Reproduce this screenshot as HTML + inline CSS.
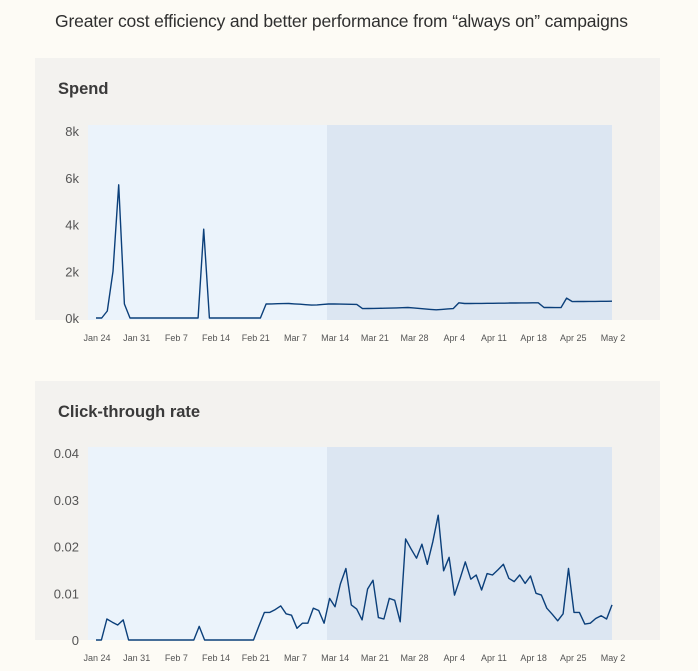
<!DOCTYPE html>
<html><head><meta charset="utf-8"><style>
html,body{margin:0;padding:0;background:#fdfbf5;}
svg{display:block;font-family:"Liberation Sans",sans-serif;}
</style></head><body>
<svg id="c" width="698" height="671" viewBox="0 0 698 671">
<rect x="0" y="0" width="698" height="671" fill="#fdfbf5"/>
<text x="55" y="27" font-size="17.5" fill="#2f2f2f" textLength="573">Greater cost efficiency and better performance from “always on” campaigns</text>
<g id="p1"></g>
<g id="p2"></g>
</svg>
<script>
const dateLabels=["Jan 24","Jan 31","Feb 7","Feb 14","Feb 21","Mar 7","Mar 14","Mar 21","Mar 28","Apr 4","Apr 11","Apr 18","Apr 25","May 2"];
const spendTicks=[0,2000,4000,6000,8000];
const spendTickLabels=["0k","2k","4k","6k","8k"];
const spendValues=[0,0,300,2000,5700,600,0,0,0,0,0,0,0,0,0,0,0,0,0,3800,0,0,0,0,0,0,0,0,0,0,
600,605,610,615,620,605,590,570,550,560,580,600,600,595,590,585,580,400,405,410,415,420,425,430,440,450,
430,410,390,370,350,370,390,400,650,620,620,625,625,630,630,635,635,640,640,645,645,650,650,450,450,445,
445,850,700,705,705,710,710,715,715,720];
const ctrTicks=[0,0.01,0.02,0.03,0.04];
const ctrTickLabels=["0","0.01","0.02","0.03","0.04"];
const ctrValues=[0,0,4.5,3.8,3.2,4.3,0,0,0,0,0,0,0,0,0,0,0,0,0,2.9,0,0,0,0,0,0,0,0,0,0,
3,5.9,5.9,6.5,7.3,5.6,5.3,2.5,3.6,3.6,6.8,6.3,3.6,8.9,7.1,12,15.3,7.5,6.6,4.3,10.9,12.8,4.8,4.5,8.9,8.5,
3.9,21.6,19.5,17.5,20.5,16.2,21,26.7,14.8,17.7,9.6,13,16.7,13,13.9,10.7,14.2,13.9,15,16.2,13.2,12.5,13.9,
12.1,13.7,10,9.6,6.8,5.5,4.1,5.6,15.3,5.9,5.9,3.4,3.6,4.6,5.2,4.5,7.5].map(v=>v/1000);

const NS="http://www.w3.org/2000/svg";
function mk(parent,tag,attrs){const e=document.createElementNS(NS,tag);for(const k in attrs)e.setAttribute(k,attrs[k]);parent.appendChild(e);return e;}

function panel(g,cfg,values,ticks,tickLabels){
  const bg=mk(g,'rect',{x:35,y:cfg.py,width:625,height:cfg.ph,fill:'#f3f2ef'});
  
  
  const t=mk(g,'text',{x:58,y:cfg.py+36,'font-size':16.5,'font-weight':'bold',fill:'#3a3a3a'});
  t.textContent=cfg.title;
  
  
  const L=88,R=612,top=cfg.top,bot=cfg.bot,x0=96,x1=612,y0=cfg.y0,yT=cfg.yT;
  const a=mk(g,'rect',{x:L,y:top,width:R-L,height:bot-top,fill:'#ebf3fb'});
  
  
  const b=mk(g,'rect',{x:327,y:top,width:R-327,height:bot-top,fill:'#dce6f2'});
  
  
  const maxT=ticks[ticks.length-1];
  const ys=v=>y0-(v/maxT)*(y0-yT);
  const xs=i=>x0+i*(x1-x0)/(values.length-1);
  ticks.forEach((tv,k)=>{
    const tl=mk(g,'text',{x:79,y:ys(tv)+5,'font-size':13,fill:'#555','text-anchor':'end'});
    tl.textContent=tickLabels[k];
    
    
  });
  dateLabels.forEach((d,k)=>{
    const x=x0+k*(x1-x0)/(dateLabels.length-1)+1;
    const xl=mk(g,'text',{x:x,y:bot+21,'font-size':9,fill:'#555','text-anchor':'middle'});
    xl.textContent=d;
    
    
  });
  const pts=values.map((v,i)=>xs(i).toFixed(1)+','+ys(v).toFixed(1)).join(' ');
  const line=mk(g,'polyline',{points:pts,fill:'none',stroke:'#0b3f7a','stroke-width':1.4,'stroke-linejoin':'round'});
  
  
}
panel(document.getElementById('p1'),{py:58,ph:262,title:'Spend',top:125,bot:320,y0:318,yT:131,lineName:'spend-line'},spendValues,spendTicks,spendTickLabels);
panel(document.getElementById('p2'),{py:381,ph:259,title:'Click-through rate',top:447,bot:640,y0:640,yT:453,lineName:'ctr-line'},ctrValues,ctrTicks,ctrTickLabels);
</script>
</body></html>
